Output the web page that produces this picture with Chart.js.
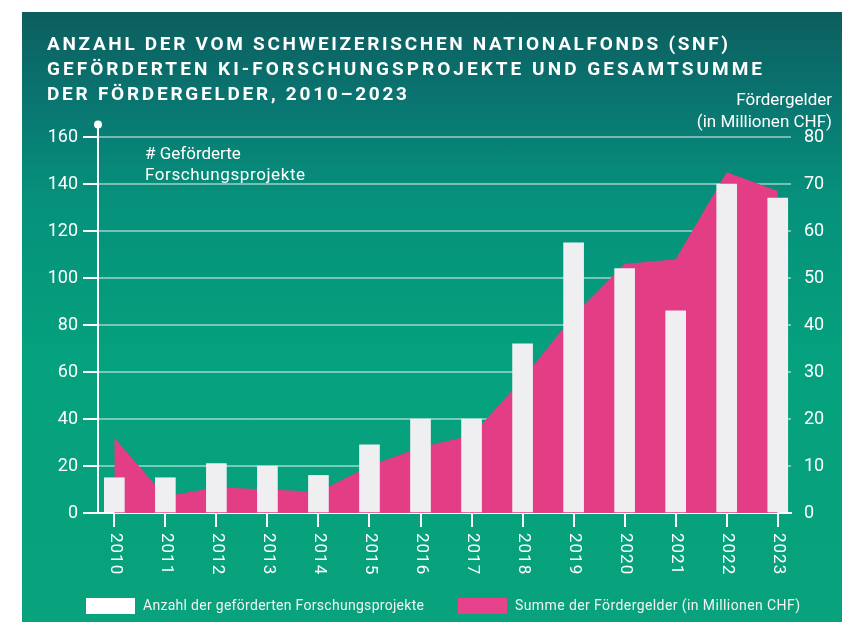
<!DOCTYPE html>
<html>
<head>
<meta charset="utf-8">
<script src="https://cdn.jsdelivr.net/npm/chart.js@4.4.1/dist/chart.umd.min.js"></script>
<style>
  body { margin: 0; background: #ffffff; }
  #wrap { position: relative; width: 842px; height: 622px; overflow: hidden; }
  #panel {
    position: absolute; left: 22px; top: 12px; width: 820px; height: 610px;
    background: linear-gradient(180deg, #0c5e5e 0%, #0a7470 14%, #06907b 30%, #05a07d 55%, #08a37c 100%);
  }
  #chart { position: absolute; left: 0; top: 0; }
</style>
</head>
<body>
<div id="wrap">
  <div id="panel"></div>
  <canvas id="chart" width="842" height="622"></canvas>
</div>
<script>
// data
var years = ['2010', '2011', '2012', '2013', '2014', '2015', '2016', '2017', '2018', '2019', '2020', '2021', '2022', '2023'];
var projects = [15, 15, 21, 20, 16, 29, 40, 40, 72, 115, 104, 86, 140, 134];
var funding = [16, 3.5, 5.5, 5, 4.5, 10, 14, 16.5, 28.5, 42, 53, 54, 72.5, 68.5];
var leftTicks = [0, 20, 40, 60, 80, 100, 120, 140, 160];
var rightTicks = [0, 10, 20, 30, 40, 50, 60, 70, 80];

var titleLines = [
  'ANZAHL DER VOM SCHWEIZERISCHEN NATIONALFONDS (SNF)',
  'GEFÖRDERTEN KI-FORSCHUNGSPROJEKTE UND GESAMTSUMME',
  'DER FÖRDERGELDER, 2010–2023'
];
var legendLabels = ['Anzahl der geförderten Forschungsprojekte', 'Summe der Fördergelder (in Millionen CHF)'];

var WHITE = '#ffffff';
var BAR = '#efeff1';
var PINK = '#e23d85';

// fit text to a width by tracking (original uses a condensed face)
function trackedText(ctx, txt, x, y, width) {
  ctx.letterSpacing = '0px';
  var w = ctx.measureText(txt).width;
  var sp = (width - w) / (txt.length - 1);
  ctx.letterSpacing = sp + 'px';
  ctx.fillText(txt, x, y);
  ctx.letterSpacing = '0px';
}

var extras = {
  id: 'extras',
  afterDraw: function(chart) {
    var ctx = chart.ctx;
    var area = chart.chartArea;
    var xs = chart.scales.x;
    ctx.save();

    // left axis runs above the top gridline, ends in a dot
    ctx.strokeStyle = WHITE;
    ctx.lineWidth = 2;
    ctx.beginPath();
    ctx.moveTo(area.left, area.top);
    ctx.lineTo(area.left, 125);
    ctx.stroke();
    ctx.fillStyle = WHITE;
    ctx.beginPath();
    ctx.arc(area.left, 124.5, 4, 0, Math.PI * 2);
    ctx.fill();

    // year labels, rotated clockwise
    ctx.font = '17px Roboto';
    ctx.textAlign = 'left';
    ctx.textBaseline = 'middle';
    years.forEach(function(y) {
      var px = xs.getPixelForValue(Number(y));
      ctx.save();
      ctx.translate(px + 1, 533);
      ctx.rotate(Math.PI / 2);
      ctx.letterSpacing = '1px';
      ctx.fillText(y, 0, 0);
      ctx.restore();
    });

    // title
    ctx.font = 'bold 19px Roboto';
    ctx.textBaseline = 'alphabetic';
    trackedText(ctx, titleLines[0], 47, 50, 681);
    trackedText(ctx, titleLines[1], 47, 75, 715);
    trackedText(ctx, titleLines[2], 47, 100, 360);

    // axis titles
    ctx.font = '17px Roboto';
    ctx.fillText('# Geförderte', 145, 159);
    ctx.letterSpacing = '0.6px';
    ctx.fillText('Forschungsprojekte', 145, 180);
    ctx.letterSpacing = '0px';
    ctx.textAlign = 'right';
    ctx.fillText('Fördergelder', 832, 105);
    ctx.fillText('(in Millionen CHF)', 832, 127);

    // legend
    ctx.textAlign = 'left';
    ctx.font = '14px Roboto';
    ctx.fillStyle = WHITE;
    ctx.fillRect(86, 598, 49, 16);
    ctx.fillStyle = '#e8428d';
    ctx.fillRect(458, 598, 49, 16);
    ctx.fillStyle = '#f2f2f2';
    trackedText(ctx, legendLabels[0], 143, 610, 281);
    trackedText(ctx, legendLabels[1], 515, 610, 285);

    ctx.restore();
  }
};

function draw() {
  Chart.defaults.font.family = 'Roboto';
  Chart.defaults.color = WHITE;

  new Chart(document.getElementById('chart'), {
    data: {
      datasets: [{
        type: 'bar',
        label: legendLabels[0],
        data: years.map(function(y, i) { return { x: Number(y), y: projects[i] }; }),
        backgroundColor: BAR,
        barThickness: 20,
        yAxisID: 'y',
        order: 1
      }, {
        type: 'line',
        label: legendLabels[1],
        data: years.map(function(y, i) { return { x: Number(y), y: funding[i] }; }),
        backgroundColor: PINK,
        borderWidth: 0,
        pointRadius: 0,
        tension: 0,
        fill: 'origin',
        yAxisID: 'y2',
        order: 2
      }]
    },
    options: {
      responsive: false,
      animation: false,
      events: [],
      layout: { padding: { top: 137, left: 0, right: 0, bottom: 0 } },
      plugins: { legend: { display: false }, tooltip: { enabled: false } },
      scales: {
        x: {
          type: 'linear',
          offset: false,
          min: 2009.68,
          max: 2023.26,
          afterBuildTicks: function(s) { s.ticks = years.map(function(y) { return { value: Number(y) }; }); },
          ticks: { display: false },
          grid: { offset: false, drawOnChartArea: false, color: WHITE, lineWidth: 2, tickLength: 14 },
          border: { color: WHITE, width: 2 },
          afterFit: function(s) { s.height = 109; }
        },
        y: {
          position: 'left',
          min: 0,
          max: 160,
          afterBuildTicks: function(s) { s.ticks = leftTicks.map(function(v) { return { value: v }; }); },
          ticks: { font: { size: 18 }, padding: 5, color: WHITE },
          grid: { color: 'rgba(255,255,255,0.45)', tickColor: WHITE, lineWidth: 2, tickLength: 15 },
          border: { color: WHITE, width: 2 },
          afterFit: function(s) { s.width = 98; }
        },
        y2: {
          position: 'right',
          min: 0,
          max: 80,
          afterBuildTicks: function(s) { s.ticks = rightTicks.map(function(v) { return { value: v }; }); },
          ticks: { font: { size: 18 }, padding: 13, color: WHITE },
          grid: { drawOnChartArea: false, drawTicks: false },
          border: { display: false },
          afterFit: function(s) { s.width = 51; }
        }
      }
    },
    plugins: [extras]
  });
}

if (document.fonts && document.fonts.load) {
  Promise.all([document.fonts.load('17px Roboto'), document.fonts.load('bold 19px Roboto')]).then(draw, draw);
} else {
  draw();
}
</script>
</body>
</html>
